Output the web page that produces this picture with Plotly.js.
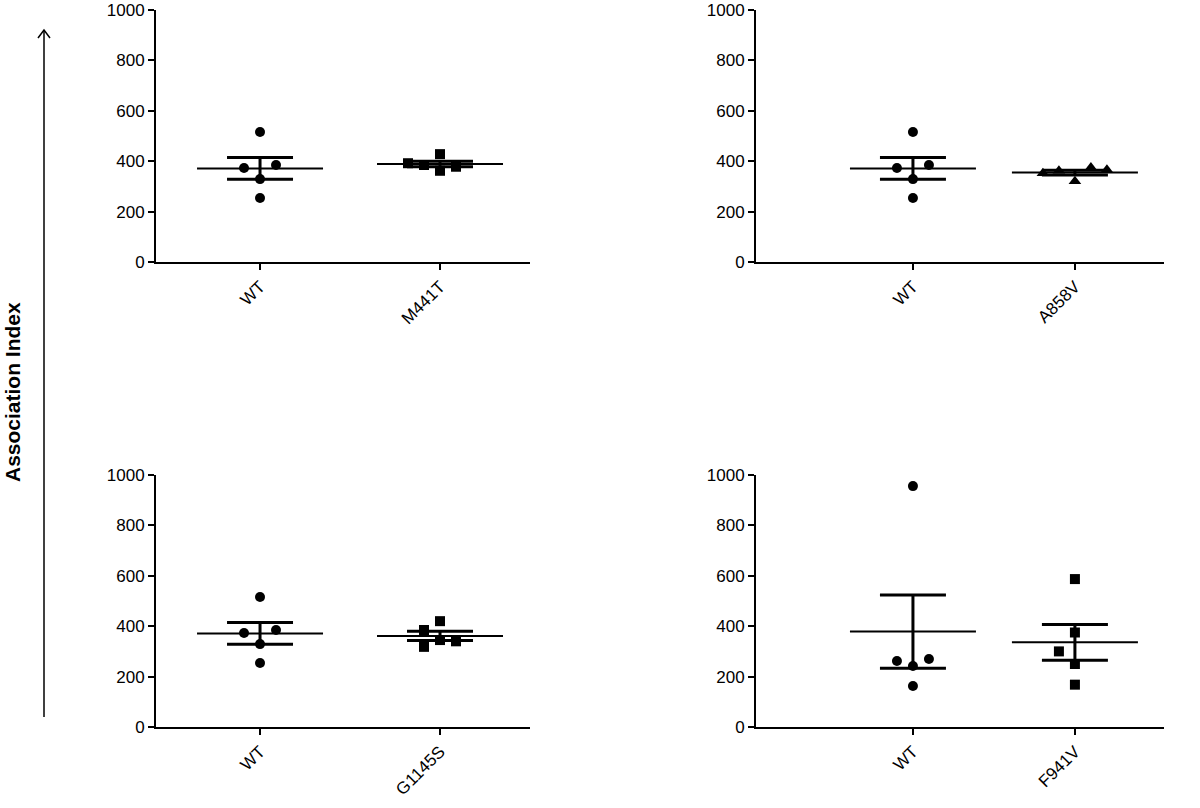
<!DOCTYPE html>
<html>
<head>
<meta charset="utf-8">
<script src="https://cdn.plot.ly/plotly-3.0.1.min.js"></script>
<style>
  html, body { margin: 0; padding: 0; background: #fff; }
  #chart { width: 1200px; height: 808px; }
</style>
</head>
<body>
<div id="chart"></div>
<script>
// values (Association Index)
var wtValues = [516, 329, 373, 385, 254];
var m441tValues = [428, 385, 378, 392, 362];
var a858vValues = [320, 362, 375, 352, 366];
var g1145sValues = [420, 385, 345, 340, 318];
var wtValues2 = [956, 242, 262, 270, 163];
var f941vValues = [587, 375, 250, 300, 168];

var panelLabels = [
    ['WT', 'M441T'],
    ['WT', 'A858V'],
    ['WT', 'G1145S'],
    ['WT', 'F941V']
];
var panelData = [
    [wtValues, m441tValues],
    [wtValues, a858vValues],
    [wtValues, g1145sValues],
    [wtValues2, f941vValues]
];
var yTicks = [0, 200, 400, 600, 800, 1000];

var W = 1200, H = 808;
let px = (x) => x / W;
let py = (y) => 1 - y / H;

// panel frames in page pixels
var frames = [
    { xd: [156, 530], yd: [10, 262], xr: [0.422, 2.5] },
    { xd: [756, 1164], yd: [10, 262], xr: [0.031, 2.55] },
    { xd: [156, 530], yd: [475, 727], xr: [0.422, 2.5] },
    { xd: [756, 1164], yd: [475, 727], xr: [0.031, 2.55] }
];
var symbols = [
    ['circle', 'square'],
    ['circle', 'triangle-up'],
    ['circle', 'square'],
    ['circle', 'square']
];
var font = 'Liberation Sans, Arial, sans-serif';

let mean = (a) => a.reduce((s, v) => s + v, 0) / a.length;
let sem = (a) => {
    let m = mean(a);
    let sd = Math.sqrt(a.reduce((s, v) => s + (v - m) * (v - m), 0) / (a.length - 1));
    return sd / Math.sqrt(a.length);
};

// column-scatter spreading: points that overlap in y are moved sideways
let spread = (vals, step, delta) => {
    let placed = [];
    return vals.map((v) => {
        let slots = [0, -1, 1, -2, 2, -3, 3];
        for (let k of slots) {
            let hit = placed.some(p => p.k === k && Math.abs(p.v - v) < delta);
            if (!hit) {
                placed.push({ k: k, v: v });
                return k * step;
            }
        }
        return 0;
    });
};

var traces = [];
var layout = {
    width: W,
    height: H,
    margin: { l: 0, r: 0, t: 0, b: 0 },
    paper_bgcolor: '#fff',
    plot_bgcolor: '#fff',
    showlegend: false,
    font: { family: font, color: '#000' },
    shapes: [],
    annotations: []
};

frames.forEach((f, i) => {
    let n = i + 1;
    let xa = n === 1 ? 'x' : 'x' + n;
    let ya = n === 1 ? 'y' : 'y' + n;
    let unit = (f.xd[1] - f.xd[0]) / (f.xr[1] - f.xr[0]);

    panelData[i].forEach((vals, g) => {
        let c = g + 1;
        let offs = spread(vals, 16 / unit, 58);
        traces.push({
            x: vals.map((v, j) => c + offs[j]),
            y: vals,
            xaxis: xa, yaxis: ya,
            type: 'scatter', mode: 'markers',
            marker: { symbol: symbols[i][g], size: symbols[i][g] === 'triangle-up' ? 11 : 10, color: '#000' },
            hoverinfo: 'y'
        });
        let m = mean(vals);
        // mean line
        traces.push({
            x: [c - 63 / unit, c + 63 / unit],
            y: [m, m],
            xaxis: xa, yaxis: ya,
            type: 'scatter', mode: 'lines',
            line: { color: '#000', width: 2 },
            hoverinfo: 'skip'
        });
        // SEM bar
        traces.push({
            x: [c],
            y: [m],
            xaxis: xa, yaxis: ya,
            type: 'scatter', mode: 'markers',
            marker: { size: 1, color: 'rgba(0,0,0,0)' },
            error_y: { type: 'data', array: [sem(vals)], visible: true, color: '#000', thickness: 3, width: 33 },
            hoverinfo: 'skip'
        });
    });

    layout['xaxis' + (n === 1 ? '' : n)] = {
        domain: [px(f.xd[0]), px(f.xd[1])],
        range: f.xr,
        anchor: ya,
        tickmode: 'array',
        tickvals: [1, 2],
        ticktext: panelLabels[i],
        tickangle: -45,
        ticks: 'outside', ticklen: 6, tickwidth: 2, tickcolor: '#000',
        showline: true, linecolor: '#000', linewidth: 2,
        showgrid: false, zeroline: false,
        tickfont: { family: font, size: 17, color: '#000' },
        fixedrange: true
    };
    layout['yaxis' + (n === 1 ? '' : n)] = {
        domain: [py(f.yd[1]), py(f.yd[0])],
        range: [0, 1000],
        anchor: xa,
        tickmode: 'array',
        tickvals: yTicks,
        ticktext: yTicks.map(String),
        ticks: 'outside', ticklen: 6, tickwidth: 2, tickcolor: '#000',
        showline: true, linecolor: '#000', linewidth: 2,
        showgrid: false, zeroline: false,
        tickfont: { family: font, size: 17, color: '#000' },
        fixedrange: true
    };
});

// shared y title with arrow
layout.annotations.push({
    xref: 'paper', yref: 'paper',
    x: px(12), y: py(392),
    xanchor: 'center', yanchor: 'middle',
    text: '<b>Association Index</b>',
    textangle: -90,
    showarrow: false,
    font: { family: font, size: 21, color: '#000' }
});
layout.shapes.push({
    type: 'line', xref: 'paper', yref: 'paper',
    x0: px(44), y0: py(717), x1: px(44), y1: py(30),
    line: { color: '#000', width: 1.5 }
});
layout.shapes.push({
    type: 'path', xref: 'paper', yref: 'paper',
    path: `M ${px(38)},${py(38)} L ${px(44)},${py(30)} L ${px(50)},${py(38)}`,
    line: { color: '#000', width: 1.5 }
});

Plotly.newPlot('chart', traces, layout, { staticPlot: true });
</script>
</body>
</html>
